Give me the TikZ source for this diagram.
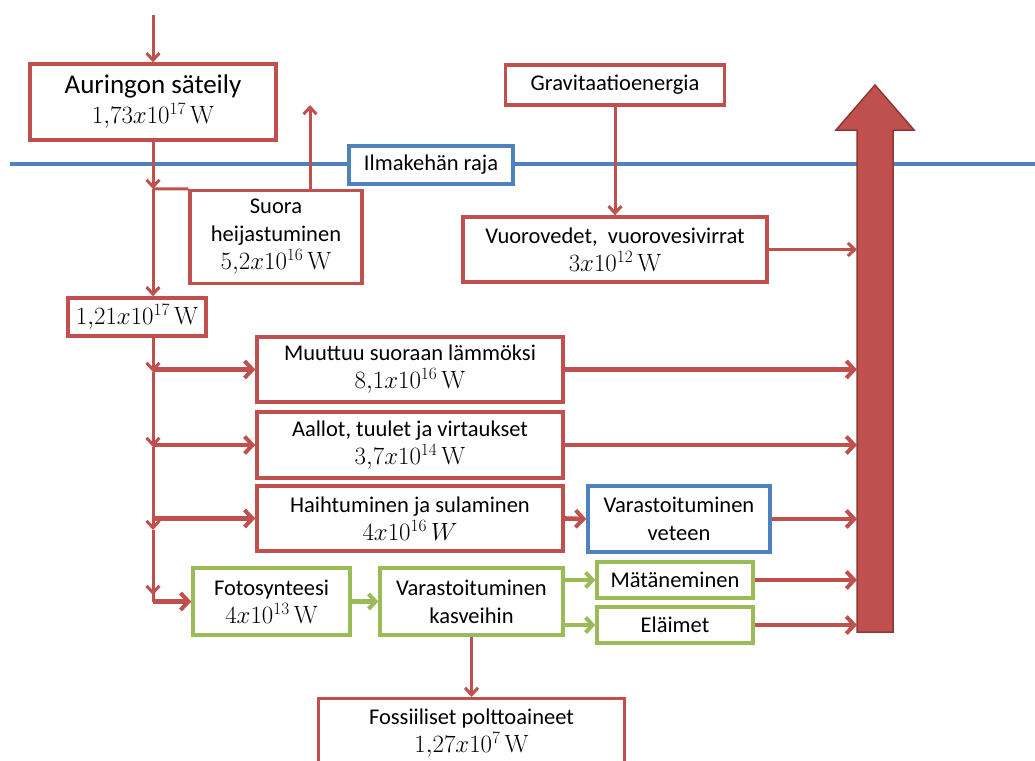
\documentclass[tikz,border=0pt]{standalone}
\usepackage{fontspec}
\setmainfont{Carlito}
\newfontfamily\lmrm{Latin Modern Roman}
\usetikzlibrary{arrows.meta}
\definecolor{cred}{HTML}{C0504D}
\definecolor{cdred}{HTML}{8C3836}
\definecolor{cblue}{HTML}{4F81BD}
\definecolor{cgreen}{HTML}{9BBB59}
\newcommand\val[1]{{\fontsize{25}{28}\selectfont$#1$}}
\newcommand\WW{\mbox{\lmrm W}}
\tikzset{
  box/.style={draw=#1, line width=3.4pt, fill=white, inner sep=0pt, align=center,
    font=\fontsize{22.5}{28}\selectfont},
  rbox/.style={box=cred},
  bbox/.style={box=cblue},
  gbox/.style={box=cgreen},
  rarr/.style={draw=cred, line width=3pt, -{Straight Barb[length=7pt,width=13pt,line width=3pt]}},
  rarrthick/.style={draw=cred, line width=4.6pt, -{Straight Barb[length=8pt,width=17pt,line width=4pt]}},
  garr/.style={draw=cgreen, line width=4.6pt, -{Straight Barb[length=7pt,width=15pt,line width=4pt]}},
  rline/.style={draw=cred, line width=3pt},
}
\begin{document}
\begin{tikzpicture}[x=1pt,y=-1pt]
\useasboundingbox (0,0) rectangle (1035,760);
\clip (0,0) rectangle (1035,760);
% atmosphere boundary
\draw[cblue, line width=3.4pt] (10,164) -- (1035,164);
% big arrow
\coordinate (bigL) at (857,400);
\filldraw[fill=cred, draw=cdred, line width=1.5pt]
  (857,632) -- (857,130) -- (836,130) -- (875,85) -- (914,130) -- (893,130) -- (893,632) -- cycle;
% nodes
\node[rbox, minimum width=246pt, minimum height=76pt, font=\fontsize{27}{30}\selectfont] (aur) at (153,102)
  {Auringon säteily\\ \val{1{,}73x10^{17}\,\WW}};
\node[rbox, minimum width=219pt, minimum height=40pt] (grav) at (615,85) {Gravitaatioenergia};
\node[bbox, minimum width=164pt, minimum height=38pt] (ilm) at (431,165) {Ilmakehän raja};
\node[rbox, minimum width=172pt, minimum height=93pt] (suora) at (276,237)
  {Suora\\ heijastuminen\\ \val{5{,}2x10^{16}\,\WW}};
\node[rbox, minimum width=138pt, minimum height=38pt] (r121) at (137,317) {\val{1{,}21x10^{17}\,\WW}};
\node[rbox, minimum width=304pt, minimum height=65pt] (vuoro) at (615,249.5)
  {Vuorovedet, \ vuorovesivirrat\\ \val{3x10^{12}\,\WW}};
\node[rbox, minimum width=306pt, minimum height=65pt] (muut) at (410,369.5)
  {Muuttuu suoraan lämmöksi\\ \val{8{,}1x10^{16}\,\WW}};
\node[rbox, minimum width=306pt, minimum height=66pt] (aall) at (410,445)
  {Aallot, tuulet ja virtaukset\\ \val{3{,}7x10^{14}\,\WW}};
\node[rbox, minimum width=306pt, minimum height=65pt] (haih) at (410,518.5)
  {Haihtuminen ja sulaminen\\ \val{4x10^{16}\,W}};
\node[bbox, minimum width=182pt, minimum height=66pt] (vet) at (679,519)
  {Varastoituminen\\ veteen};
\node[gbox, minimum width=157pt, minimum height=67pt] (foto) at (271.5,601.5)
  {Fotosynteesi\\ \val{4x10^{13}\,\WW}};
\node[gbox, minimum width=183pt, minimum height=67pt] (kasv) at (471.5,601.5)
  {Varastoituminen\\ kasveihin};
\node[gbox, minimum width=156pt, minimum height=36pt] (mata) at (675,580) {Mätäneminen};
\node[gbox, minimum width=156pt, minimum height=36pt] (elai) at (675,625) {Eläimet};
\node[rbox, minimum width=306pt, minimum height=68pt, anchor=north] (foss) at (471.5,697)
  {Fossiiliset polttoaineet\\ \val{1{,}27x10^{7}\,\WW}};
% coordinates
\coordinate (top) at (153,15);
\coordinate (j1) at (153,189);
\coordinate (sup) at (310,105);
\coordinate (t1) at (153,372);
\coordinate (t2) at (153,447);
\coordinate (t3) at (153,530);
\coordinate (t4) at (153,601.5);
\coordinate (t4a) at (153,595);
% solar input
\draw[rarr] (top) -- (aur.north);
\draw[rarr] (aur.south) -- (j1);
\draw[rline] (j1) -- (suora.north west);
\draw[rarr] (suora.north -| sup) -- (sup);
\draw[rarr] (j1) -- (j1 |- r121.north);
% trunk
\draw[rarr] (r121.south -| j1) -- (t1);
\draw[rarr] (t1) -- (t2);
\draw[rarr] (t2) -- (t3);
\draw[rline] (t3) -- (t4);
\draw[rarr] (t3) -- (t4a);
% branches
\draw[rarrthick] (muut.west -| j1) -- (muut.west);
\draw[rarrthick] (aall.west -| j1) -- (aall.west);
\draw[rarrthick] (haih.west -| j1) -- (haih.west);
\draw[rarrthick] (t4) -- (foto.west);
% gravitation
\draw[rarr] (grav.south) -- (vuoro.north);
% to big arrow
\draw[rarr] (vuoro.east) -- (vuoro.east -| bigL);
\draw[rarrthick] (muut.east) -- (muut.east -| bigL);
\draw[rarrthick] (aall.east) -- (aall.east -| bigL);
\draw[rarrthick] (haih.east) -- (vet.west);
\draw[rarrthick] (vet.east) -- (vet.east -| bigL);
\draw[rarrthick] (mata.east) -- (mata.east -| bigL);
\draw[rarrthick] (elai.east) -- (elai.east -| bigL);
% green
\draw[garr] (foto.east) -- (kasv.west);
\draw[garr] (kasv.east |- mata.west) -- (mata.west);
\draw[garr] (kasv.east |- elai.west) -- (elai.west);
\draw[rarr] (kasv.south) -- (foss.north);
\end{tikzpicture}
\end{document}
